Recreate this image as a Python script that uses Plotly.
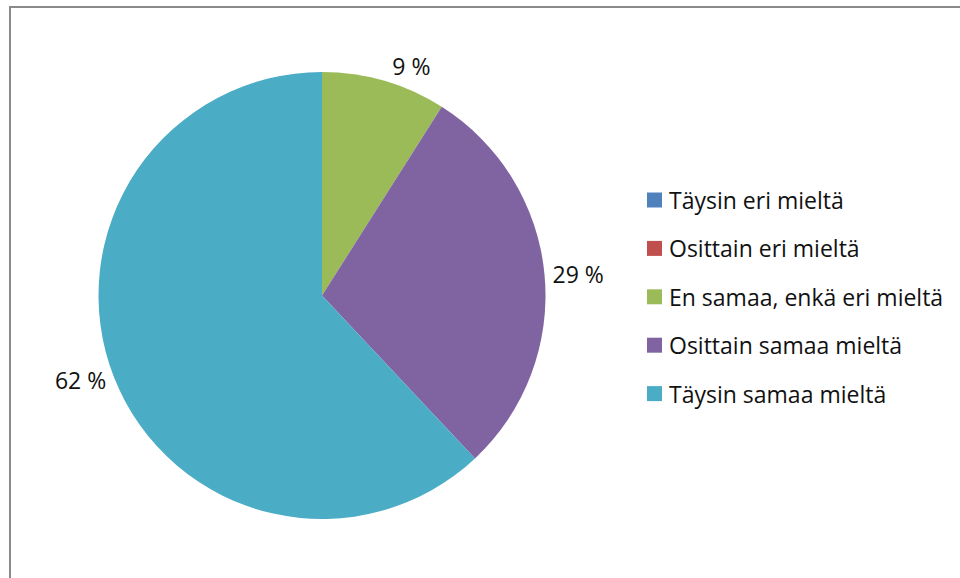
import plotly.graph_objects as go

categories = ["Täysin eri mieltä", "Osittain eri mieltä", "En samaa, enkä eri mieltä",
              "Osittain samaa mieltä", "Täysin samaa mieltä"]
values = [0, 0, 9, 29, 62]
colors = ["#4F81BD", "#C0504D", "#9BBB59", "#8064A2", "#4BACC6"]

W, H = 960, 578
FONT = "Open Sans"
labels_text = [f"{v} %" if v > 0 else "" for v in values]

fig = go.Figure(go.Pie(
    labels=categories,
    values=values,
    text=labels_text,
    textinfo="text",
    textposition="outside",
    textfont=dict(family=FONT, size=23, color="#111111"),
    sort=False,
    direction="clockwise",
    rotation=0,
    marker=dict(colors=colors, line=dict(width=0)),
    domain=dict(x=[98 / W, 546 / W], y=[1 - 519 / H, 1 - 72 / H]),
    showlegend=False,
    hoverinfo="label+percent",
))

# Manual legend (Excel-like spacing)
shapes = []
annotations = []
leg_x_sq = 647
sq = 15
leg_y0 = 200
leg_step = 48.4
for i, (cat, col) in enumerate(zip(categories, colors)):
    cy = leg_y0 + i * leg_step
    shapes.append(dict(type="rect", xref="paper", yref="paper",
                       x0=leg_x_sq / W, x1=(leg_x_sq + sq) / W,
                       y0=1 - (cy + sq / 2) / H, y1=1 - (cy - sq / 2) / H,
                       fillcolor=col, line=dict(width=0)))
    annotations.append(dict(xref="paper", yref="paper", x=667 / W, y=1 - cy / H,
                            xanchor="left", yanchor="middle", showarrow=False,
                            text=cat, font=dict(family=FONT, size=23, color="#111111")))

# Chart area frame
shapes.append(dict(type="rect", xref="paper", yref="paper",
                   x0=10 / W, x1=1.05, y0=-0.05, y1=1 - 7 / H,
                   line=dict(color="#8a8a8a", width=2), fillcolor="rgba(0,0,0,0)", layer="below"))

fig.update_layout(
    width=W, height=H,
    margin=dict(l=0, r=0, t=0, b=0),
    paper_bgcolor="#ffffff",
    plot_bgcolor="#ffffff",
    shapes=shapes,
    annotations=annotations,
)

fig.write_html("out.html")
